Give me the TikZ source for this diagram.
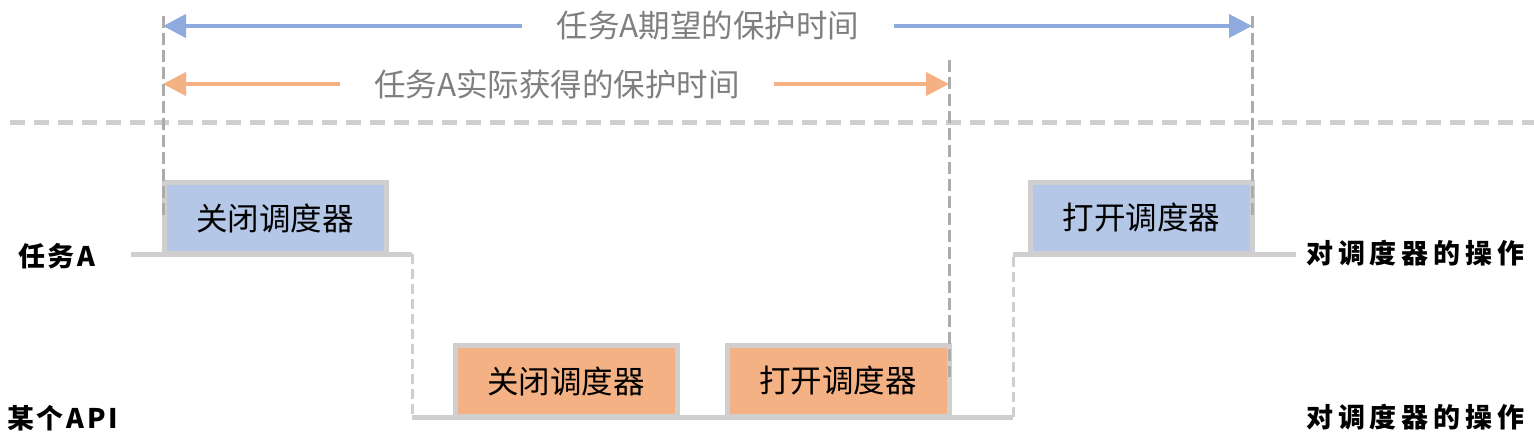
\documentclass[tikz,border=0pt]{standalone}
\usepackage{fontspec}
\setmainfont{Noto Sans CJK SC}
\usetikzlibrary{arrows.meta}
\definecolor{lineblue}{HTML}{8FAADC}
\definecolor{boxblue}{HTML}{B4C7E7}
\definecolor{boxorange}{HTML}{F4B183}
\definecolor{railgray}{HTML}{D0CECE}
\definecolor{markgray}{HTML}{AEABAB}
\definecolor{textgray}{HTML}{7F7F7F}

\begin{document}
\begin{tikzpicture}[x=1pt, y=-1pt,
		opbox/.style={draw=railgray, line width=5pt, minimum width=222pt, minimum height=71pt, inner sep=0pt, font=\fontsize{31.5}{33}\selectfont},
		spanlabel/.style={text=textgray, inner xsep=34pt, inner ysep=0pt, font=\fontsize{31.5}{34}\selectfont},
		rowlabel/.style={anchor=west, inner sep=0pt, font=\fontsize{27}{30}\selectfont\bfseries\addfontfeature{LetterSpace=10}},
		oplabel/.style={rowlabel, font=\fontsize{27}{30}\selectfont\bfseries\addfontfeature{LetterSpace=18}},
		rail/.style={draw=railgray, line width=5pt},
		railstep/.style={draw=railgray, line width=3pt, dash pattern=on 10pt off 5pt},
		timemark/.style={draw=markgray, line width=3pt, dash pattern=on 12pt off 5pt},
		spanarrow/.style={line width=4pt, -{Triangle[length=23pt, width=23pt]}}]

		\useasboundingbox (0,0) rectangle (1534,445);

		\draw [railgray, line width=5pt, dash pattern=on 15pt off 9pt]	(10,122) to (1534,122);

		\coordinate (t0) at (131,254);
		\coordinate (t1) at (412,254);
		\coordinate (t2) at (412,417);
		\coordinate (t3) at (1013,417);
		\coordinate (t4) at (1013,254);
		\coordinate (t5) at (1296,254);

		\draw [rail]		(t0) to (t1);
		\draw [railstep]	(t1) to (t2);
		\draw [rail]		(t2) to (t3);
		\draw [railstep]	(t3) to (t4);
		\draw [rail]		(t4) to (t5);

		\node [opbox, fill=boxblue]		(offA)		at (275,218)	{关闭调度器};
		\node [opbox, fill=boxorange]	(offApi)	at (566,381)	{关闭调度器};
		\node [opbox, fill=boxorange]	(onApi)		at (838,381)	{打开调度器};
		\node [opbox, fill=boxblue]		(onA)		at (1141.5,218)	{打开调度器};

		\node [rowlabel]	(taskA)		at (18,256)		{任务A};
		\node [rowlabel]	(someApi)	at (7,418)		{某个API};
		\node [oplabel]		(opA)		at (1306,253)	{对调度器的操作};
		\node [oplabel]		(opApi)		at (1306,417)	{对调度器的操作};

		\coordinate (m0top) at (163,16);
		\coordinate (m0bot) at (163,218);
		\coordinate (m1top) at (949,60);
		\coordinate (m1bot) at (949,377);
		\coordinate (m2top) at (1252,16);
		\coordinate (m2bot) at (1252,218);

		\node [spanlabel]	(wantLbl)	at (708,26)		{任务A期望的保护时间};
		\node [spanlabel]	(gotLbl)	at (557,84)		{任务A实际获得的保护时间};

		\draw [spanarrow, lineblue]		(wantLbl.west) to (wantLbl.west -| m0top);
		\draw [spanarrow, lineblue]		(wantLbl.east) to (wantLbl.east -| m2top);
		\draw [spanarrow, boxorange]	(gotLbl.west) to (gotLbl.west -| m0top);
		\draw [spanarrow, boxorange]	(gotLbl.east) to (gotLbl.east -| m1top);

		\draw [timemark]	(m0top) to (m0bot);
		\draw [timemark]	(m1top) to (m1bot);
		\draw [timemark]	(m2top) to (m2bot);
	\end{tikzpicture}
\end{document}
